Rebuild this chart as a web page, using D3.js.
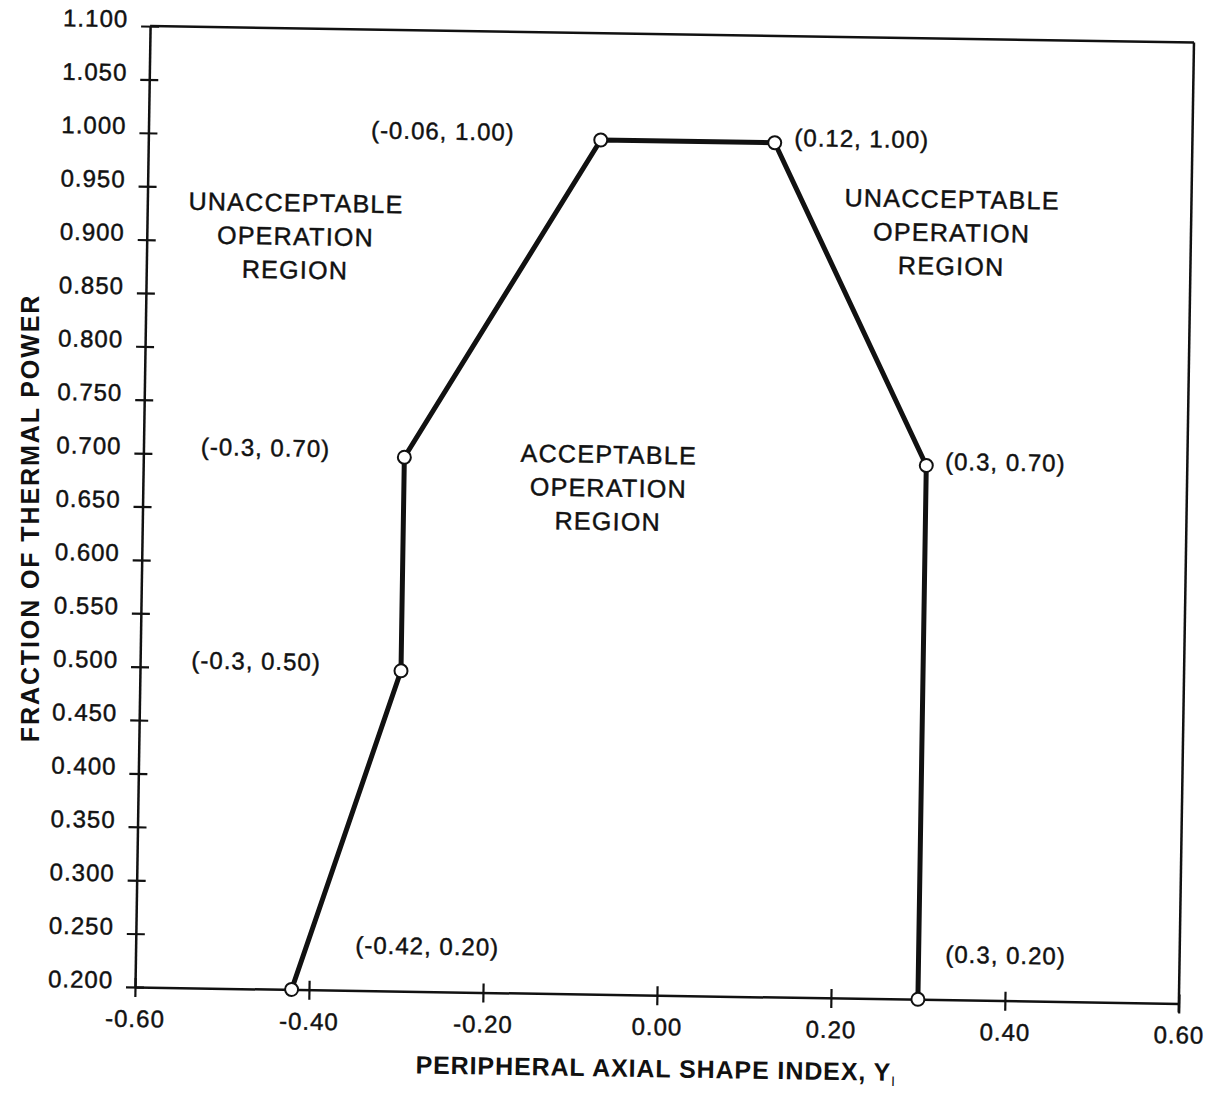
<!DOCTYPE html>
<html><head><meta charset="utf-8">
<script src="https://cdn.jsdelivr.net/npm/d3@7"></script>
<style>body{margin:0;background:#fff} svg{display:block}</style>
</head><body><svg id="c" width="1213" height="1093"></svg>
<script>
// ---- data ----
const pointX = [-0.42, -0.30, -0.30, -0.08, 0.12, 0.30, 0.30];
const pointY = [0.20, 0.50, 0.70, 1.00, 1.00, 0.70, 0.20];
const pointLabels = ["(-0.42, 0.20)", "(-0.3, 0.50)", "(-0.3, 0.70)", "(-0.06, 1.00)", "(0.12, 1.00)", "(0.3, 0.70)", "(0.3, 0.20)"];
const xTickLabels = ["-0.60", "-0.40", "-0.20", "0.00", "0.20", "0.40", "0.60"];
const yTickLabels = ["0.200","0.250","0.300","0.350","0.400","0.450","0.500","0.550","0.600","0.650","0.700","0.750","0.800","0.850","0.900","0.950","1.000","1.050","1.100"];
const regionLeft = ["UNACCEPTABLE", "OPERATION", "REGION"];
const regionRight = ["UNACCEPTABLE", "OPERATION", "REGION"];
const regionMid = ["ACCEPTABLE", "OPERATION", "REGION"];
const xTitle = "PERIPHERAL AXIAL SHAPE INDEX, Y";
const xTitleSub = "I";
const yTitle = "FRACTION OF THERMAL POWER";

// ---- layout ----
const W = 1044, H = 961, ox = 135, oy = 987, angle = 0.9;
const FONT = "'Liberation Sans', Arial, Helvetica, sans-serif";
const INK = "#111";
const svg = d3.select("#c");
const g = svg.append("g")
  .attr("transform", `rotate(${angle},${ox},${oy}) translate(${ox},${oy - H})`);

const xTickValues = xTickLabels.map(Number);
const yTickValues = yTickLabels.map(Number);
const x = d3.scaleLinear().domain([-0.6, 0.6]).range([0, W]);
const y = d3.scaleLinear().domain([0.2, 1.1]).range([H, 0]);

function inkText(sel, size) {
  sel.attr("font-family", FONT).attr("font-size", size).attr("fill", INK)
    .attr("stroke", INK).attr("stroke-width", 0.45);
  return sel;
}

// axes
const xAxis = g.append("g").attr("transform", `translate(0,${H})`)
  .call(d3.axisBottom(x).tickValues(xTickValues).tickFormat((d, i) => xTickLabels[i]).tickSizeOuter(0));
const yAxis = g.append("g")
  .call(d3.axisLeft(y).tickValues(yTickValues).tickFormat((d, i) => yTickLabels[i]).tickSizeOuter(0));

[xAxis, yAxis].forEach(a => {
  a.select(".domain").attr("stroke", INK).attr("stroke-width", 2.5);
  a.selectAll(".tick line").attr("stroke", INK).attr("stroke-width", 2.2);
  inkText(a.selectAll("text"), 24).attr("letter-spacing", 1.0);
});
xAxis.selectAll(".tick line").attr("y1", -9).attr("y2", 10);
xAxis.selectAll(".tick text").attr("y", 40).attr("dy", 0);
yAxis.selectAll(".tick line").attr("x1", -9).attr("x2", 9);
yAxis.selectAll(".tick text").attr("x", -22).attr("y", 1).attr("dy", 0);

// frame top & right
g.append("line").attr("x1", x(-0.6)).attr("x2", x(0.6)).attr("y1", y(1.1)).attr("y2", y(1.1))
  .attr("stroke", INK).attr("stroke-width", 2.5);
g.append("line").attr("x1", x(0.6)).attr("x2", x(0.6)).attr("y1", y(1.1)).attr("y2", y(0.2) + 9)
  .attr("stroke", INK).attr("stroke-width", 2.5);

// boundary line
const pts = pointX.map((v, i) => [v, pointY[i]]);
g.append("path").datum(pts)
  .attr("d", d3.line().x(d => x(d[0])).y(d => y(d[1])))
  .attr("fill", "none").attr("stroke", INK).attr("stroke-width", 5).attr("stroke-linejoin", "round");
g.selectAll("circle.pt").data(pts).join("circle")
  .attr("class", "pt").attr("cx", d => x(d[0])).attr("cy", d => y(d[1])).attr("r", 6.5)
  .attr("fill", "#fff").attr("stroke", INK).attr("stroke-width", 2);

// point labels (offsets in px from each point)
const labelOffsets = [[135, -37], [-145, 1], [-139, 1], [-158, 2], [87, 3], [79, 4], [87, -37]];
inkText(g.selectAll("text.pl").data(pts).join("text"), 24)
  .attr("class", "pl")
  .attr("x", (d, i) => x(d[0]) + labelOffsets[i][0])
  .attr("y", (d, i) => y(d[1]) + labelOffsets[i][1])
  .attr("text-anchor", "middle").attr("letter-spacing", 1.0)
  .text((d, i) => pointLabels[i]);

// region labels
function region(lines, cx, cyTop) {
  const t = inkText(g.append("text"), 25).attr("text-anchor", "middle").attr("letter-spacing", 1.3);
  lines.forEach((s, i) => {
    t.append("tspan").attr("x", x(cx)).attr("y", y(cyTop) + 9 + i * 33.5).text(s);
  });
}
region(regionLeft, -0.429, 0.937);
region(regionRight, 0.325, 0.950);
region(regionMid, -0.065, 0.706);

// axis titles
const xt = g.append("text").attr("x", x(0)).attr("y", H + 82).attr("text-anchor", "middle")
  .attr("font-family", FONT).attr("font-size", 25).attr("font-weight", "bold")
  .attr("letter-spacing", 0.9).attr("fill", INK);
xt.append("tspan").text(xTitle);
xt.append("tspan").attr("font-size", 14).attr("font-weight", "normal").attr("dy", 5).text(xTitleSub);

svg.append("text").attr("transform", `translate(39,518) rotate(-90)`)
  .attr("text-anchor", "middle").attr("font-family", FONT).attr("font-size", 25)
  .attr("font-weight", "bold").attr("letter-spacing", 1.9).attr("fill", INK)
  .text(yTitle);
</script></body></html>
